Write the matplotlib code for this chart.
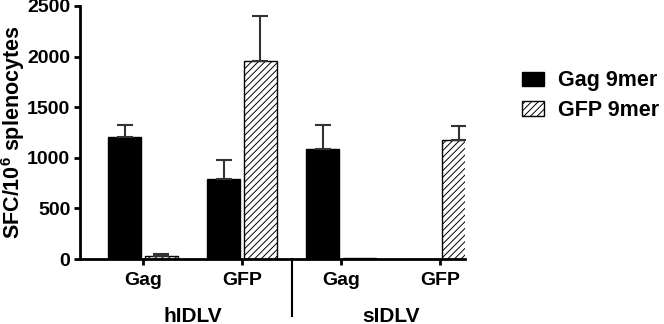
import matplotlib
matplotlib.use("Agg")
import matplotlib.pyplot as plt
import matplotlib.transforms as mtransforms
import numpy as np

plt.rcParams['font.family'] = ['Liberation Sans', 'DejaVu Sans']
plt.rcParams['font.weight'] = 'bold'
plt.rcParams['hatch.linewidth'] = 0.7
plt.rcParams['mathtext.fontset'] = 'custom'
plt.rcParams['mathtext.rm'] = 'Liberation Sans:bold'
plt.rcParams['mathtext.bf'] = 'Liberation Sans:bold'

categories = ["Gag", "GFP", "Gag", "GFP"]
groups = ["hIDLV", "sIDLV"]
series_names = ["Gag 9mer", "GFP 9mer"]
gag9_vals = [1210, 790, 1090, 0]
gag9_err = [115, 190, 230, 0]
gfp9_vals = [30, 1960, 5, 1175]
gfp9_err = [18, 440, 0, 140]
yticks = [0, 500, 1000, 1500, 2000, 2500]

fig = plt.figure(figsize=(6.64, 3.24), dpi=100)
ax = fig.add_axes([80/664, 65/324, 385/664, 253/324])

x = np.arange(len(categories))
w = 0.335
off = 0.185
ax.bar(x - off, gag9_vals, w, color='black', edgecolor='black', linewidth=1,
       label=series_names[0], zorder=2)
ax.bar(x + off, gfp9_vals, w, color='white', edgecolor='black', linewidth=1,
       hatch='/////', label=series_names[1], zorder=2)
ecol = '#333333'
for xi, v, e in zip(x - off, gag9_vals, gag9_err):
    if e > 0:
        ax.errorbar(xi, v, yerr=[[0], [e]], fmt='none', ecolor=ecol, elinewidth=1.5,
                    capsize=6, capthick=1.5, zorder=3)
for xi, v, e in zip(x + off, gfp9_vals, gfp9_err):
    if e > 0:
        ax.errorbar(xi, v, yerr=[[0], [e]], fmt='none', ecolor=ecol, elinewidth=1.5,
                    capsize=6, capthick=1.5, zorder=3)

ax.set_xlim(-0.636, 3.25)
ax.set_ylim(0, 2500)
ax.set_yticks(yticks)
ax.set_yticklabels([str(t) for t in yticks], fontsize=14, fontweight='bold')
ax.set_xticks(x)
ax.set_xticklabels(categories, fontsize=14, fontweight='bold')
ax.spines['top'].set_visible(False)
ax.spines['right'].set_visible(False)
for s in ['left', 'bottom']:
    ax.spines[s].set_linewidth(2)
ax.tick_params(axis='both', width=2, length=4.5, pad=2.5)
ax.tick_params(axis='x', pad=5)
ax.set_ylabel("SFC/10$^{\\mathbf{6}}$ splenocytes", fontsize=15.5, fontweight='bold')
ax.yaxis.set_label_coords(-53/385, 0.5)

trans = mtransforms.blended_transform_factory(ax.transData, ax.transAxes)
ax.plot([1.5, 1.5], [0, -57/253], color='black', lw=1.5, transform=trans, clip_on=False)
ax.text(0.5, -57/253, groups[0], transform=trans, ha='center', va='center',
        fontsize=15, fontweight='bold')
ax.text(2.5, -57/253, groups[1], transform=trans, ha='center', va='center',
        fontsize=15, fontweight='bold')

leg = ax.legend(loc='upper left', bbox_to_anchor=(1.125, 0.78), frameon=False,
                borderaxespad=0,
                prop={'size': 15.5, 'weight': 'bold'}, handlelength=1.03, handleheight=0.65,
                labelspacing=0.4, handletextpad=0.65)

fig.savefig("out.png", dpi=100)
